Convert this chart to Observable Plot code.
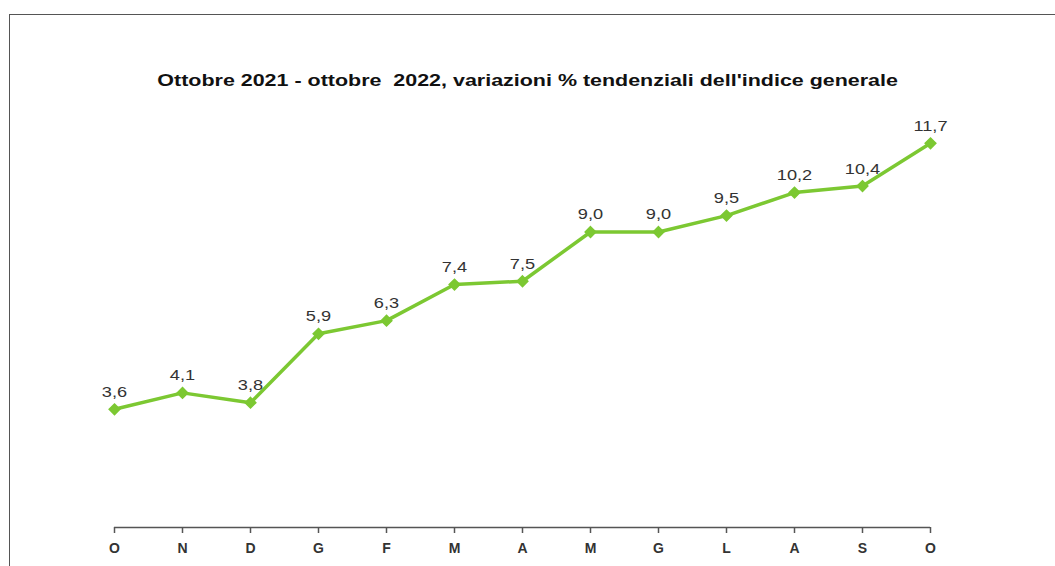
<!DOCTYPE html>
<html>
<head>
<meta charset="utf-8">
<script src="https://cdn.jsdelivr.net/npm/d3@7"></script>
<script src="https://cdn.jsdelivr.net/npm/@observablehq/plot@0.6"></script>
<style>
  html, body { margin: 0; padding: 0; background: #fff; width: 1055px; height: 566px; overflow: hidden; }
  #frame { position: absolute; left: 9px; top: 14px; width: 1060px; height: 600px;
           border-left: 1.5px solid #555; border-top: 1.5px solid #555; box-sizing: border-box; }
  #title { position: absolute; left: 0; width: 1055px; top: 71px; line-height: 19px; text-align: center;
           font-family: "Liberation Sans", Arial, sans-serif; font-weight: bold; font-size: 16.5px; color: #111;
           white-space: pre; transform: scaleX(1.3); transform-origin: 527px 50%; }
  #chart { position: absolute; left: 0; top: 0; }
</style>
</head>
<body>
<div id="frame"></div>
<div id="title">Ottobre 2021 - ottobre  2022, variazioni % tendenziali dell'indice generale</div>
<div id="chart"></div>
<script>
const months = ["O", "N", "D", "G", "F", "M", "A", "M", "G", "L", "A", "S", "O"];
const values = [3.6, 4.1, 3.8, 5.9, 6.3, 7.4, 7.5, 9.0, 9.0, 9.5, 10.2, 10.4, 11.7];

const data = months.map((m, i) => ({i, m, v: values[i]}));
const fmt = v => v.toFixed(1).replace(".", ",");
const green = "#7cc832";

const chart = Plot.plot({
  width: 1055,
  height: 566,
  marginLeft: 112,
  marginRight: 124,
  marginTop: 133,
  marginBottom: 39,
  style: {background: "transparent", fontFamily: "'Liberation Sans', Arial, sans-serif"},
  x: {type: "point", domain: d3.range(months.length), padding: 0, axis: null},
  y: {domain: [0, 12], axis: null},
  marks: [
    Plot.ruleY([0], {x1: 0, x2: months.length - 1, stroke: "#555", strokeWidth: 1.5}),
    Plot.axisX({
      domain: d3.range(months.length),
      tickFormat: i => months[i],
      label: null,
      tickSize: 6,
      tickPadding: 10,
      stroke: "#555",
      strokeWidth: 1.5,
      fontSize: 14,
      fontWeight: "bold",
      fill: "#333"
    }),
    Plot.line(data, {x: "i", y: "v", stroke: green, strokeWidth: 3.5}),
    Plot.dot(data, {x: "i", y: "v", symbol: "diamond2", r: 4.8, fill: green, stroke: green}),
    Plot.text(data, {x: "i", y: "v", text: d => fmt(d.v), dy: -17, fontSize: 14, fill: "#333"})
  ]
});
document.getElementById("chart").appendChild(chart);

// widen the value labels horizontally, like the reference's stretched lettering
d3.select(chart).selectAll('g[aria-label="text"] text').each(function() {
  const t = d3.select(this);
  const tr = t.attr("transform");
  if (tr) {
    t.attr("transform", tr + " scale(1.3,1)");
  } else {
    const x = +t.attr("x") || 0;
    t.attr("transform", `translate(${x},0) scale(1.3,1) translate(${-x},0)`);
  }
});
</script>
</body>
</html>
